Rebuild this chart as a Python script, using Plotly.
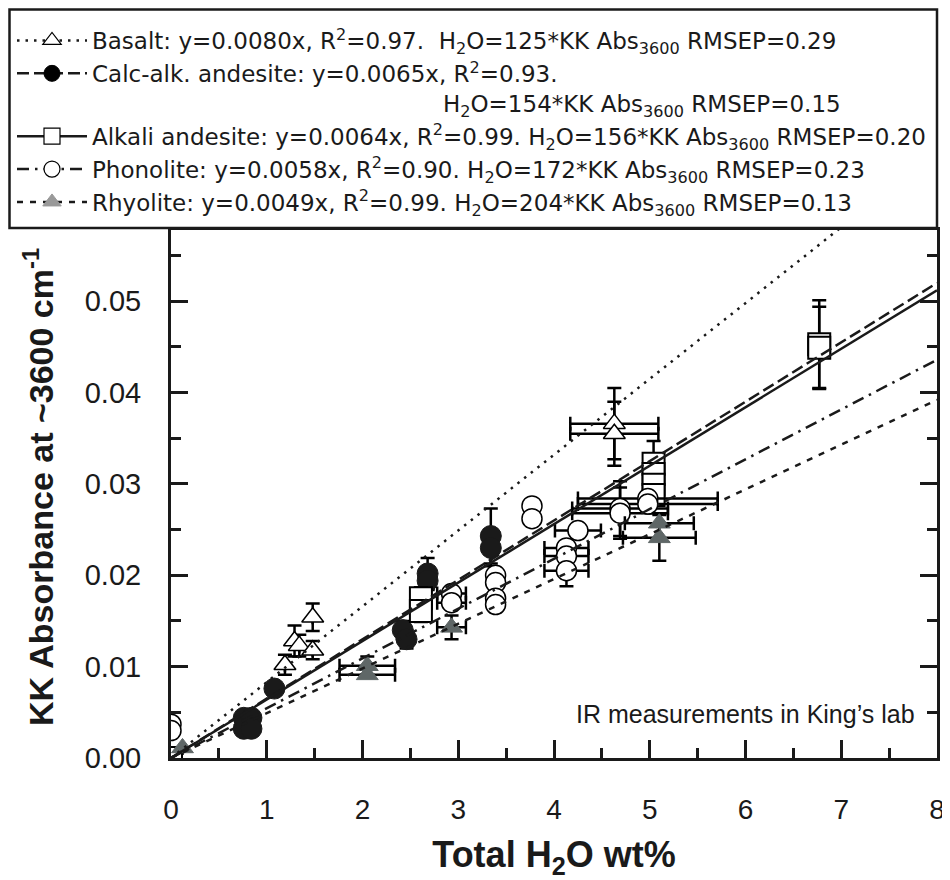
import plotly.graph_objects as go

# ---------------- data ----------------
basalt_x = [1.19, 1.29, 1.34, 1.48, 1.48, 4.63, 4.63]
basalt_y = [0.0102, 0.0128, 0.0123, 0.0118, 0.0154, 0.0366, 0.0355]
basalt_xerr = [None, None, None, None, None, 0.46, 0.46]
basalt_yerr = [0.0011, 0.0017, 0.0012, 0.0010, 0.0015, 0.0039, 0.0035]

calc_x = [0.76, 0.84, 0.76, 0.84, 1.08, 2.42, 2.46, 2.68, 2.68, 3.34, 3.34]
calc_y = [0.0044, 0.0044, 0.0032, 0.0032, 0.0076, 0.0140, 0.0130, 0.0202, 0.0194, 0.0243, 0.0230]
calc_xerr = [None] * 11
calc_yerr = [None, None, None, None, None, 0.0010, 0.0010, 0.0017, 0.0010, 0.0030, 0.0020]

alk_x = [0.0, 2.61, 2.61, 5.04, 5.04, 5.04, 5.04, 6.77, 6.77]
alk_y = [0.0, 0.0175, 0.0161, 0.0322, 0.0311, 0.0299, 0.0288, 0.0453, 0.0449]
alk_xerr = [None] * 9
alk_yerr = [None, 0.0012, 0.0012, 0.0025, 0.0020, 0.0020, 0.0020, 0.0048, 0.0045]

phon_x = [0.0, 0.0, 2.93, 2.93, 3.39, 3.39, 3.39, 3.39, 3.77, 3.77,
          4.13, 4.13, 4.13, 4.25, 4.69, 4.69, 4.98, 4.98]
phon_y = [0.0037, 0.0030, 0.0180, 0.0170, 0.0200, 0.0192, 0.0175, 0.0168, 0.0276, 0.0262,
          0.0230, 0.0221, 0.0205, 0.0249, 0.0273, 0.0268, 0.0284, 0.0278]
phon_xerr = [None, None, 0.15, 0.15, None, None, None, None, None, None,
             0.23, 0.23, 0.23, 0.24, 0.50, 0.50, 0.73, 0.73]
phon_yerr = [None, None, None, None, None, None, None, None, None, None,
             None, None, 0.0017, None, 0.0030, 0.0028, None, None]

rhy_x = [0.12, 2.05, 2.05, 2.93, 5.10, 5.10]
rhy_y = [0.0011, 0.0101, 0.0091, 0.0143, 0.0257, 0.0241]
rhy_xerr = [None, 0.29, 0.29, 0.15, 0.36, 0.38]
rhy_yerr = [None, 0.0010, None, 0.0013, None, 0.0025]

# fitted lines (slope as drawn, through origin)
fit_names = ["Basalt", "Calc-alk. andesite", "Alkali andesite", "Phonolite", "Rhyolite"]
fit_slopes = [0.0083, 0.0065, 0.0064, 0.00545, 0.0049]
fit_x = [0, 8]

legend_texts = [
    "Basalt: y=0.0080x, R<sup>2</sup>=0.97.\u00a0\u00a0H<sub>2</sub>O=125*KK Abs<sub>3600</sub> RMSEP=0.29",
    "Calc-alk. andesite: y=0.0065x, R<sup>2</sup>=0.93.<br>" + "\u00a0" * 48 +
    "H<sub>2</sub>O=154*KK Abs<sub>3600</sub> RMSEP=0.15",
    "Alkali andesite: y=0.0064x, R<sup>2</sup>=0.99. H<sub>2</sub>O=156*KK Abs<sub>3600</sub> RMSEP=0.20",
    "Phonolite: y=0.0058x, R<sup>2</sup>=0.90. H<sub>2</sub>O=172*KK Abs<sub>3600</sub> RMSEP=0.23",
    "Rhyolite: y=0.0049x, R<sup>2</sup>=0.99. H<sub>2</sub>O=204*KK Abs<sub>3600</sub> RMSEP=0.13",
]

x_ticks = [0, 1, 2, 3, 4, 5, 6, 7, 8]
y_ticks = [0.00, 0.01, 0.02, 0.03, 0.04, 0.05]
y_ticklabels = ["0.00", "0.01", "0.02", "0.03", "0.04", "0.05"]

# ---------------- layout geometry (figure sits 8px in from page corner) ----------------
W, H = 942, 872
ML, MR, MT, MB = 163, 13, 222, 122
PW, PH = W - ML - MR, H - MT - MB


def px_to_paper_x(px):
    return (px - ML) / PW


def px_to_paper_y(py):
    return (H - MB - py) / PH


# ---------------- styles ----------------
FONT = "Liberation Sans, Arial, Helvetica, sans-serif"
LFONT = "DejaVu Sans, Liberation Sans, sans-serif"
GREY = "#5f6767"
INK = "#1a1a1a"
styles = [
    dict(symbol="triangle-up", size=19, color="white", line=dict(color="black", width=1.5)),
    dict(symbol="circle", size=21, color=INK, line=dict(color=INK, width=1)),
    dict(symbol="square", size=22, color="white", line=dict(color="black", width=2)),
    dict(symbol="circle", size=20, color="white", line=dict(color="black", width=1.5)),
    dict(symbol="triangle-up", size=19, color=GREY, line=dict(color=GREY, width=1)),
]
legend_marker = [
    dict(symbol="triangle-up", size=16, color="white", line=dict(color="black", width=1.2)),
    dict(symbol="circle", size=16, color="black", line=dict(color="black", width=1)),
    dict(symbol="square", size=16, color="white", line=dict(color="black", width=1.2)),
    dict(symbol="circle", size=16, color="white", line=dict(color="black", width=1.2)),
    dict(symbol="triangle-up", size=16, color="#999999", line=dict(color="#999999", width=1)),
]
dashes = ["2.5px,6px", "12px,5px", "solid", "12px,6px,2.5px,6px", "6px,7px"]

series = [
    (basalt_x, basalt_y, basalt_xerr, basalt_yerr),
    (calc_x, calc_y, calc_xerr, calc_yerr),
    (alk_x, alk_y, alk_xerr, alk_yerr),
    (phon_x, phon_y, phon_xerr, phon_yerr),
    (rhy_x, rhy_y, rhy_xerr, rhy_yerr),
]

fig = go.Figure()

# data points
for i, (xs, ys, xe, ye) in enumerate(series):
    fig.add_trace(go.Scatter(
        x=xs, y=ys, mode="markers", showlegend=False, legendgroup=str(i),
        marker=styles[i],
        error_x=dict(type="data", array=xe, visible=True, color="black", thickness=2.5, width=7),
        error_y=dict(type="data", array=ye, visible=True, color="black", thickness=2.5, width=7),
    ))

# fit lines on top
for i, s in enumerate(fit_slopes):
    fig.add_trace(go.Scatter(
        x=fit_x, y=[s * v for v in fit_x], mode="lines", showlegend=False,
        legendgroup=str(i),
        line=dict(color=INK, width=2.5, dash=dashes[i]),
    ))

# legend entries
for i, t in enumerate(legend_texts):
    fig.add_trace(go.Scatter(
        x=[None], y=[None], mode="lines+markers", name=t, legendgroup=str(i),
        line=dict(color=INK, width=2.5, dash=dashes[i]),
        marker=legend_marker[i],
    ))

fig.update_layout(
    width=W, height=H,
    margin=dict(l=ML, r=MR, t=MT, b=MB, autoexpand=False),
    paper_bgcolor="white", plot_bgcolor="white",
    font=dict(family=FONT, color="black"),
    showlegend=True,
    legend=dict(
        xref="container", yref="container", x=4 / W, y=1 - 11 / H,
        xanchor="left", yanchor="top",
        bgcolor="rgba(0,0,0,0)", borderwidth=0,
        font=dict(family=LFONT, size=23, color=INK),
        itemwidth=70, valign="top", traceorder="grouped", tracegroupgap=0,
    ),
    shapes=[dict(
        type="rect", xref="paper", yref="paper", layer="above",
        x0=px_to_paper_x(1.5), x1=px_to_paper_x(929), y0=px_to_paper_y(1.5), y1=px_to_paper_y(220),
        line=dict(color=INK, width=2.5), fillcolor="white",
    )],
    annotations=[
        dict(
            text="IR measurements in King\u2019s lab", xref="paper", yref="paper",
            x=0.974, y=0.083, xanchor="right", yanchor="middle", showarrow=False,
            font=dict(family=FONT, size=25, color=INK),
        ),
        dict(
            text="<b>KK Absorbance at ~3600 cm<sup>-1</sup></b>", xref="paper", yref="paper",
            x=px_to_paper_x(30), y=px_to_paper_y(479), xanchor="center", yanchor="middle",
            textangle=-90, showarrow=False,
            font=dict(family=FONT, size=34, color=INK),
        ),
    ],
)

fig.update_xaxes(
    range=[0, 8], tickvals=x_ticks, ticktext=[str(v) for v in x_ticks],
    ticks="inside", ticklen=18, tickwidth=3, tickcolor=INK,
    minor=dict(ticks="inside", ticklen=10, tickwidth=3, dtick=0.5, tickcolor=INK),
    showline=True, linewidth=3, linecolor=INK, mirror=True,
    showgrid=False, zeroline=False,
    tickfont=dict(family=FONT, size=28, color=INK), ticklabelstandoff=24,
    title=dict(text="<b>Total H<sub>2</sub>O wt%</b>", font=dict(family=FONT, size=36, color=INK), standoff=33),
)
fig.update_yaxes(
    range=[0, 0.0578], tickvals=y_ticks, ticktext=y_ticklabels,
    ticks="inside", ticklen=17, tickwidth=3, tickcolor=INK,
    minor=dict(ticks="inside", ticklen=10, tickwidth=3, dtick=0.005, tickcolor=INK),
    showline=True, linewidth=3, linecolor=INK, mirror="ticks",
    showgrid=False, zeroline=False,
    tickfont=dict(family=FONT, size=29, color=INK), ticklabelstandoff=21,
)

fig.write_html("out.html")
